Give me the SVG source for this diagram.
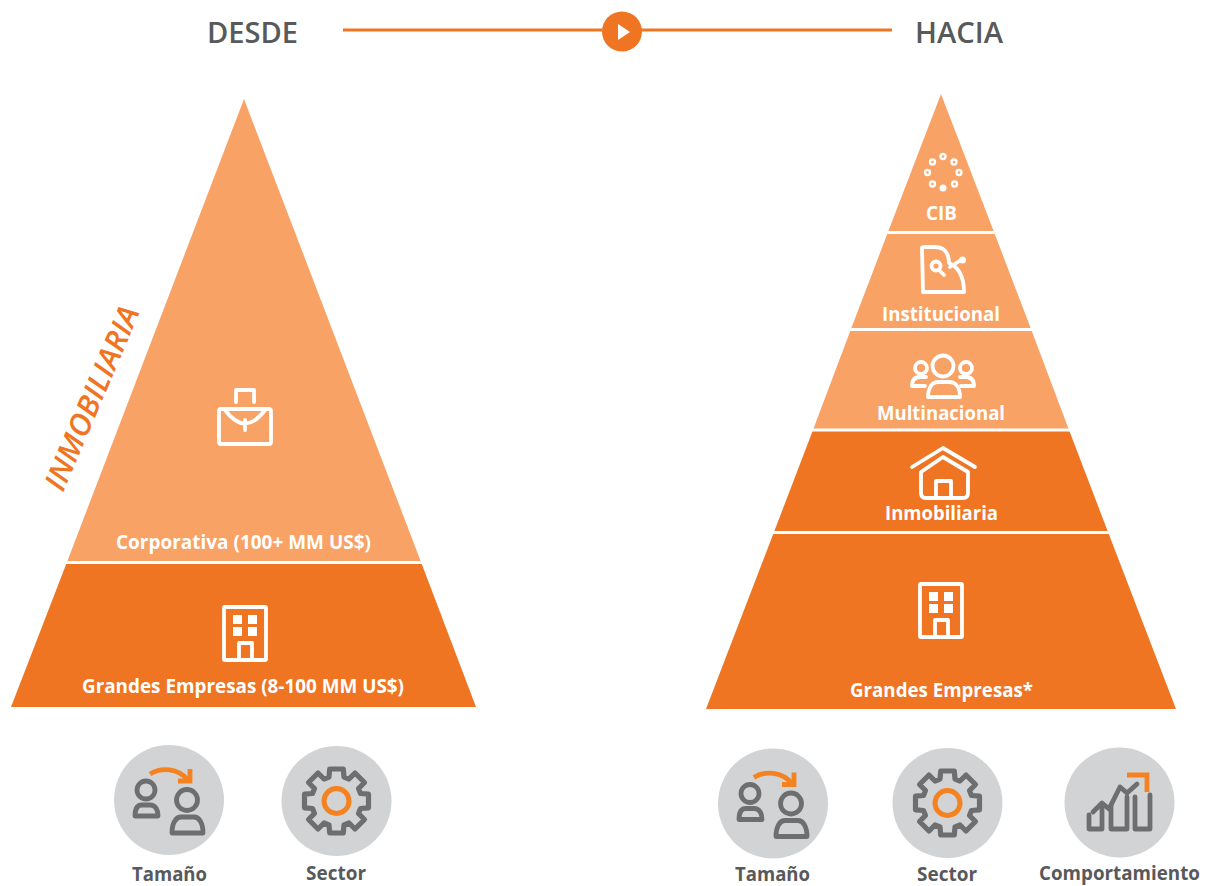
<svg xmlns="http://www.w3.org/2000/svg" width="1205" height="886" viewBox="0 0 1205 886">
<style>
text{font-family:"Open Sans","Noto Sans","Liberation Sans",sans-serif;font-weight:700}
.w{fill:#fff;font-size:19px;text-anchor:start}
.g{fill:#58595b;font-size:20px}
.h{fill:#58595b;font-size:29px;font-weight:600}
.dark{fill:#ef7523}.light{fill:#f9a265}
.sep{stroke:#fff;stroke-width:3;fill:none}
.i{fill:none;stroke:#fff;stroke-width:3.8;stroke-linejoin:round;stroke-linecap:round}
.gi{fill:none;stroke:#6d6e70;stroke-width:4.800;stroke-linejoin:round;stroke-linecap:round}
.oi{fill:none;stroke:#f58220;stroke-width:4.800}
.c{fill:#d1d3d4}
</style>
<defs>
<g id="bld">
<rect class="i" x="224" y="607" width="42" height="53" rx="1"/>
<path fill="#fff" d="M233 615h9v9h-9zM248 615h9v9h-9zM233 627h9v9h-9zM248 627h9v9h-9z"/>
<path class="i" d="M239 660V643H252V660"/>
</g>
<g id="tam">
<circle class="gi" cx="-23" cy="-10" r="9"/>
<path class="gi" d="M-34 16C-34 8-31 5-27 5H-19C-14 5-11 9-11 16Z"/>
<circle class="gi" cx="18" cy="0" r="10.500"/>
<path class="gi" d="M3 33C3 23 7 17 12 17H25C30 17 34 23 34 33Z"/>
<path class="oi" d="M-19-26C-8-33 9-32 19-20"/>
<path class="oi" d="M9-19H21V-31"/>
</g>
<g id="gear">
<path class="gi" style="stroke-width:5.200" d="M24-7.500L32-6.800V6.800L24 7.500L22 12.500L28 18.500L18.500 28L12.500 22L7.500 24L6.800 32H-6.800L-7.500 24L-12.500 22L-18.500 28L-28 18.500L-22 12.500L-24 7.500L-32 6.800V-6.800L-24-7.500L-22-12.500L-28-18.500L-18.500-28L-12.500-22L-7.500-24L-6.800-32H6.800L7.500-24L12.500-22L18.500-28L28-18.500L22-12.500Z"/>
<circle cx="0" cy="0" r="12.500" fill="none" stroke="#f58220" stroke-width="5"/>
</g>
</defs>

<g id="connectors">
<path d="M343 30H602M640 30H892" stroke="#ef7523" stroke-width="3" fill="none"/>
</g>
<g id="play">
<circle cx="622" cy="31.500" r="20" class="dark"/>
<path d="M618 24V40L630 32Z" fill="#fff"/>
</g>
<g id="desde"><text class="h" x="207" y="43" textLength="91" lengthAdjust="spacingAndGlyphs">DESDE</text></g>
<g id="hacia"><text class="h" x="915" y="43" textLength="88" lengthAdjust="spacingAndGlyphs">HACIA</text></g>

<g id="left-corporativa">
<path class="light" d="M244 99L67 562H421Z"/>
<path class="i" d="M236 402V390H254V402"/>
<rect class="i" x="219" y="409" width="52" height="35" rx="2"/>
<path class="i" d="M225 410Q245 437 265 410M245 420V430"/>
<text class="w" x="116" y="549" textLength="255" lengthAdjust="spacingAndGlyphs">Corporativa (100+ MM US$)</text>
</g>
<g id="left-grandes">
<path class="dark" d="M67 562L11 707H476L421 562Z"/>
<use href="#bld"/>
<text class="w" x="82" y="693" textLength="322" lengthAdjust="spacingAndGlyphs">Grandes Empresas (8-100 MM US$)</text>
</g>
<path class="sep" d="M60 562.500H428"/>
<g id="inmobiliaria-label">
<text transform="translate(63 493) rotate(-67)" fill="#ef7523" font-size="30" font-style="italic" style="font-weight:600" textLength="197" lengthAdjust="spacingAndGlyphs">INMOBILIARIA</text>
</g>

<g id="right-grandes">
<path class="dark" d="M774 532L706 709H1176L1108 532Z"/>
<use href="#bld" x="696" y="-23"/>
<text class="w" x="850" y="697" textLength="183" lengthAdjust="spacingAndGlyphs">Grandes Empresas*</text>
</g>
<g id="right-inmobiliaria">
<path class="dark" d="M813 430L774 532H1108L1069 430Z"/>
<path class="i" d="M912 467L943 448L975 467"/>
<path class="i" d="M921 472L943 457L968 472V493Q968 498 963 498H926Q921 498 921 493Z"/>
<path class="i" d="M936 498V481H951V498"/>
<text class="w" x="885" y="520" textLength="113" lengthAdjust="spacingAndGlyphs">Inmobiliaria</text>
</g>
<g id="right-multinacional">
<path class="light" d="M851 329L813 430H1069L1031 329Z"/>
<circle class="i" cx="943" cy="366" r="10.500"/>
<path class="i" d="M928 397C928 388 932 382 938 382H949C956 382 960 388 960 397Z"/>
<circle class="i" cx="921" cy="368" r="6"/>
<path class="i" d="M925 386H912C912 380 915 377 920 377H926"/>
<circle class="i" cx="966" cy="368" r="6"/>
<path class="i" d="M961 386H974C974 380 971 377 966 377H960"/>
<text class="w" x="877" y="420" textLength="128" lengthAdjust="spacingAndGlyphs">Multinacional</text>
</g>
<g id="right-institucional">
<path class="light" d="M888 232L851 329H1031L994 232Z"/>
<path class="i" d="M922 248Q922 247 925 247H935C943 247 949 252 949 263C957 266 964 275 964 292H923Z"/>
<circle class="i" cx="936" cy="266" r="4.500"/>
<path class="i" d="M939 270L944 275M950 267L961 260"/>
<circle cx="962.500" cy="260" r="3.500" fill="#fff"/>
<text class="w" x="882" y="321" textLength="118" lengthAdjust="spacingAndGlyphs">Institucional</text>
</g>
<g id="right-cib">
<path class="light" d="M941 94L888 232H994Z"/>
<g fill="none" stroke="#fff" stroke-width="2.400">
<circle cx="943" cy="156.500" r="2.500"/><circle cx="954" cy="162" r="2.500"/><circle cx="959" cy="172.500" r="2.500"/><circle cx="954.500" cy="184" r="2.500"/><circle cx="932.500" cy="184" r="2.500"/><circle cx="927.500" cy="172.500" r="2.500"/><circle cx="932.500" cy="162" r="2.500"/>
</g>
<circle cx="943" cy="188" r="3.500" fill="#fff"/>
<text class="w" x="926" y="220" textLength="31" lengthAdjust="spacingAndGlyphs">CIB</text>
</g>
<path class="sep" d="M884 232.500H998M848 329.500H1034M810 430H1072M771 532.500H1111"/>

<g id="left-tamano">
<circle class="c" cx="169" cy="800" r="55"/>
<use href="#tam" x="169" y="800"/>
<text class="g" x="132" y="880.500" textLength="75" lengthAdjust="spacingAndGlyphs">Tamaño</text>
</g>
<g id="left-sector">
<circle class="c" cx="336.500" cy="801" r="55"/>
<use href="#gear" x="336.500" y="801"/>
<text class="g" x="306" y="880" textLength="60" lengthAdjust="spacingAndGlyphs">Sector</text>
</g>
<g id="right-tamano">
<circle class="c" cx="773" cy="803.500" r="55"/>
<use href="#tam" x="773" y="803.500"/>
<text class="g" x="735" y="880.500" textLength="75" lengthAdjust="spacingAndGlyphs">Tamaño</text>
</g>
<g id="right-sector">
<circle class="c" cx="947.500" cy="803" r="55"/>
<use href="#gear" x="947.500" y="803"/>
<text class="g" x="917" y="880.500" textLength="60" lengthAdjust="spacingAndGlyphs">Sector</text>
</g>
<g id="right-comportamiento">
<circle class="c" cx="1119.500" cy="802.500" r="55"/>
<path class="gi" d="M1089 815V829H1102V808M1111 805V829H1127V797M1135 797V829H1150V795"/>
<path class="gi" d="M1093 812L1102 803L1109 809L1120 787L1127 793L1137 784"/>
<path class="oi" d="M1127 775H1147V792"/>
<text class="g" x="1039" y="879.500" style="font-size:19px" textLength="161" lengthAdjust="spacingAndGlyphs">Comportamiento</text>
</g>
</svg>
